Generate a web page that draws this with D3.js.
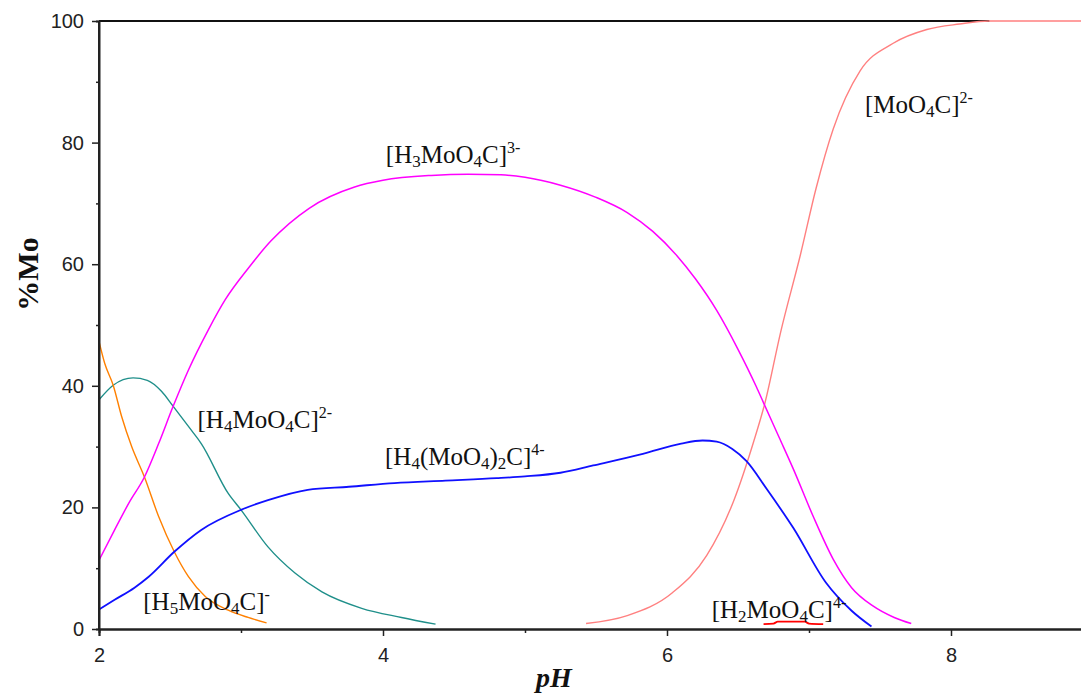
<!DOCTYPE html>
<html>
<head>
<meta charset="utf-8">
<script src="https://cdn.jsdelivr.net/npm/d3@7"></script>
<style>
  body { margin: 0; background: #fff; }
  svg { display: block; }
</style>
</head>
<body>
<svg id="chart" width="1081" height="697"></svg>
<script>
// species distribution curves [pH, %Mo]
var h5Data = [[2.0,47.3],[2.04,43.7],[2.10,40.1],[2.16,34.9],[2.23,30.0],[2.32,25.0],[2.42,18.5],[2.53,12.7],[2.63,8.6],[2.75,5.3],[2.91,3.1],[3.05,1.9],[3.18,1.0]];
var h4Data = [[2.0,37.7],[2.10,40.1],[2.24,41.3],[2.34,40.9],[2.44,39.1],[2.52,36.7],[2.65,32.7],[2.72,30.5],[2.91,22.3],[3.0,19.6],[3.19,13.5],[3.38,9.2],[3.57,6.1],[3.85,3.4],[4.13,1.9],[4.37,0.8]];
var h3Data = [[2.0,11.3],[2.11,16.3],[2.21,20.7],[2.32,25.0],[2.42,30.5],[2.52,36.5],[2.63,42.6],[2.77,49.2],[2.89,54.2],[3.05,59.3],[3.21,63.8],[3.48,69.2],[3.80,72.7],[4.0,73.8],[4.34,74.6],[4.6,74.8],[4.83,74.7],[5.0,74.3],[5.25,73.0],[5.5,71.0],[5.72,68.5],[5.9,65.4],[6.07,61.4],[6.2,57.6],[6.35,52.4],[6.5,46.0],[6.63,39.8],[6.68,37.2],[6.79,31.5],[6.89,26.3],[7.03,18.5],[7.17,11.5],[7.3,6.8],[7.45,3.8],[7.6,1.9],[7.72,0.9]];
var dimerData = [[2.0,3.2],[2.11,4.8],[2.25,6.8],[2.35,8.6],[2.53,12.7],[2.72,16.3],[3.0,19.6],[3.19,21.2],[3.47,22.9],[3.76,23.4],[4.08,24.0],[4.44,24.4],[4.8,24.8],[5.0,25.1],[5.25,25.7],[5.48,26.9],[5.83,28.8],[6.1,30.5],[6.25,31.0],[6.35,30.8],[6.46,29.6],[6.56,27.6],[6.70,23.1],[6.89,16.6],[7.12,7.6],[7.30,3.0],[7.44,0.4]];
var moData = [[5.43,0.9],[5.72,2.2],[6.04,6.0],[6.28,12.1],[6.47,21.1],[6.61,30.8],[6.69,37.2],[6.80,48.8],[6.94,61.6],[7.05,72.5],[7.17,82.2],[7.36,91.8],[7.59,96.3],[7.83,98.6],[8.06,99.5],[8.27,100],[9.0,100]];
var h2Data = [[6.68,0.8],[6.75,0.9],[6.78,1.2],[6.97,1.2],[7.0,0.9],[7.1,0.8]];
var topLine = [[2.0,100],[8.27,100]];

var xTicks = [2, 4, 6, 8];
var xMinor = [3, 5, 7, 9];
var yTicks = [0, 20, 40, 60, 80, 100];
var yMinor = [10, 30, 50, 70, 90];

// label text pieces: [text, kind]
var lblH3 = [["[H",""],["3","sub"],["MoO",""],["4","sub"],["C]",""],["3-","sup"]];
var lblH4 = [["[H",""],["4","sub"],["MoO",""],["4","sub"],["C]",""],["2-","sup"]];
var lblDimer = [["[H",""],["4","sub"],["(MoO",""],["4","sub"],[")",""],["2","sub"],["C]",""],["4-","sup"]];
var lblH5 = [["[H",""],["5","sub"],["MoO",""],["4","sub"],["C]",""],["-","sup"]];
var lblH2 = [["[H",""],["2","sub"],["MoO",""],["4","sub"],["C]",""],["4-","sup"]];
var lblMo = [["[MoO",""],["4","sub"],["C]",""],["2-","sup"]];

var svg = d3.select("#chart");
svg.append("rect").attr("width", 1081).attr("height", 697).attr("fill", "#fff");

var x = d3.scaleLinear().domain([2, 9]).range([99, 1093]);
var y = d3.scaleLinear().domain([0, 100]).range([629, 21]);

var line = d3.line()
    .x(function (d) { return x(d[0]); })
    .y(function (d) { return y(d[1]); })
    .curve(d3.curveMonotoneX);

// top black line
svg.append("path").datum(topLine).attr("d", line)
    .attr("fill", "none").attr("stroke", "#111").attr("stroke-width", 2);

var series = [
  { data: moData, color: "#ff8080", w: 1.4 },
  { data: h4Data, color: "#1f8f8a", w: 1.4 },
  { data: h5Data, color: "#ff8000", w: 1.4 },
  { data: h3Data, color: "#ff00ff", w: 1.5 },
  { data: dimerData, color: "#1010ff", w: 1.8 },
  { data: h2Data, color: "#ff0000", w: 1.8 }
];

series.forEach(function (s) {
  svg.append("path").datum(s.data).attr("d", line)
    .attr("fill", "none").attr("stroke", s.color).attr("stroke-width", s.w);
});

// axes
var yAxis = svg.append("g").attr("transform", "translate(99,0)")
    .call(d3.axisLeft(y).tickValues(yTicks).tickSize(7).tickPadding(8).tickFormat(d3.format("d")));
var yAxisMinor = svg.append("g").attr("transform", "translate(99,0)")
    .call(d3.axisLeft(y).tickValues(yMinor).tickSize(3).tickFormat(""));
var xAxis = svg.append("g").attr("transform", "translate(0,629)")
    .call(d3.axisBottom(x).tickValues(xTicks).tickSize(7).tickPadding(12).tickFormat(d3.format("d")));
var xAxisMinor = svg.append("g").attr("transform", "translate(0,629)")
    .call(d3.axisBottom(x).tickValues(xMinor).tickSize(4).tickFormat(""));

[yAxis, yAxisMinor, xAxis, xAxisMinor].forEach(function (a) {
  a.select(".domain").attr("stroke", "#222").attr("stroke-width", 2);
  a.selectAll(".tick line").attr("stroke", "#222").attr("stroke-width", 1.5);
  a.selectAll(".tick text")
    .attr("font-family", "'Liberation Sans', Arial, sans-serif")
    .attr("font-size", 20).attr("fill", "#222");
});
yAxis.selectAll(".domain").attr("d", "M0,629V21");

// axis titles
svg.append("text")
  .attr("transform", "translate(38,274) rotate(-90)")
  .attr("text-anchor", "middle")
  .attr("font-family", "'Liberation Serif', 'Times New Roman', serif")
  .attr("font-weight", "bold").attr("font-size", 30).attr("fill", "#111")
  .text("%Mo");

svg.append("text")
  .attr("x", 554).attr("y", 687)
  .attr("text-anchor", "middle")
  .attr("font-family", "'Liberation Serif', 'Times New Roman', serif")
  .attr("font-weight", "bold").attr("font-style", "italic")
  .attr("font-size", 28).attr("fill", "#111")
  .text("pH");

// species labels
function addLabel(parts, px, py) {
  var t = svg.append("text")
    .attr("x", x(px)).attr("y", y(py))
    .attr("font-family", "'Liberation Serif', 'Times New Roman', serif")
    .attr("font-size", 25).attr("fill", "#111");
  var shift = 0;
  parts.forEach(function (p) {
    var dy = 0, size = 25;
    if (p[1] == "sub") { dy = 4 - shift; size = 17; shift = 4; }
    else if (p[1] == "sup") { dy = -10 - shift; size = 16; shift = -10; }
    else { dy = -shift; shift = 0; }
    t.append("tspan").attr("dy", dy).attr("font-size", size).text(p[0]);
  });
}

addLabel(lblH3, 4.02, 76.6);
addLabel(lblH4, 2.694, 33.1);
addLabel(lblDimer, 4.014, 27.0);
addLabel(lblH5, 2.312, 3.1);
addLabel(lblH2, 6.315, 1.8);
addLabel(lblMo, 7.394, 84.9);
</script>
</body>
</html>
